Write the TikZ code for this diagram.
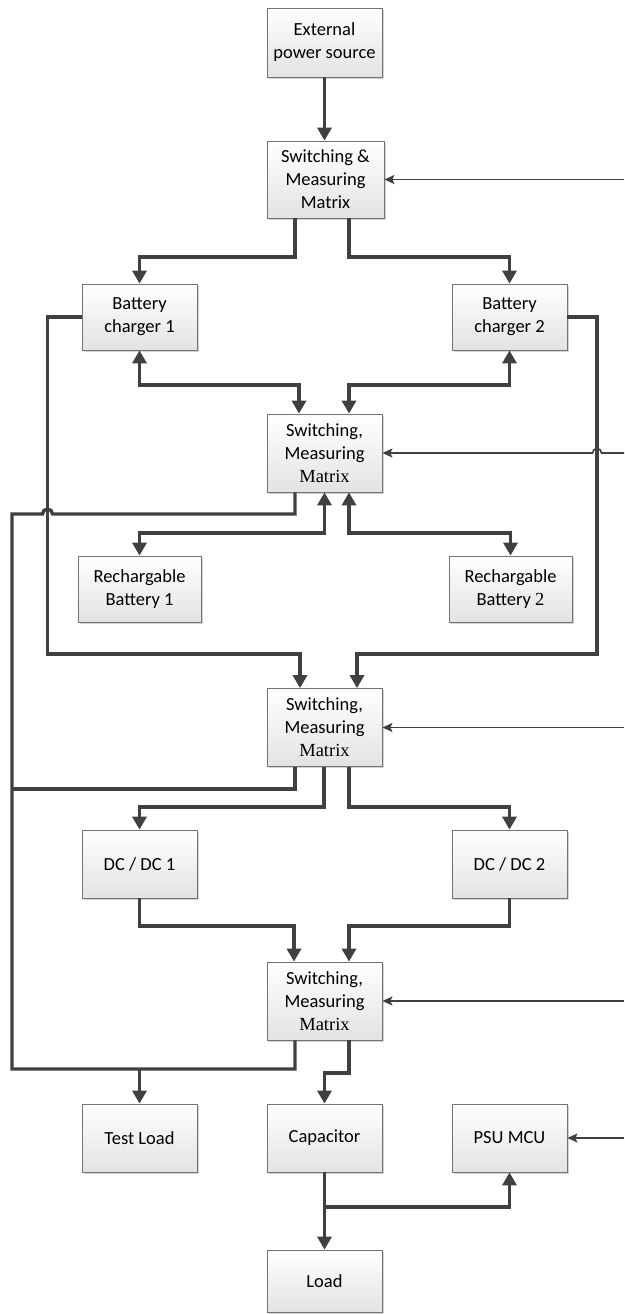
\documentclass[tikz,border=0pt]{standalone}
\usepackage{fontspec}
\setmainfont{Carlito}
\newfontfamily\tnr{Liberation Serif}
\usetikzlibrary{arrows.meta,shadows}
\definecolor{ln}{HTML}{404040}
\begin{document}
\begin{tikzpicture}[x=1pt,y=-1pt,
  box/.style={draw=black!55,line width=0.8pt,top color=white,bottom color=black!11,
    drop shadow={shadow xshift=1.6pt,shadow yshift=-1.6pt,opacity=0.35,fill=black!50},
    align=center,inner sep=0pt,font=\fontsize{18.5}{23}\selectfont},
  pw/.style={draw=ln,line width=3.4pt,line join=miter},
  pwa/.style={pw,-{Triangle[length=13pt,width=14pt]}},
  pwb/.style={pw,{Triangle[length=13pt,width=14pt]}-{Triangle[length=13pt,width=14pt]}},
  ctrl/.style={draw=ln,line width=1.6pt,-{Stealth[length=10pt,width=9pt,inset=2pt]}}]
\useasboundingbox (0,0) rectangle (624,1314);
% nodes
\node[box,minimum width=115pt,minimum height=69pt] (ext) at (324.5,42.5) {External\\power source};
\node[box,minimum width=117pt,minimum height=77pt] (m1) at (325.5,179.5) {Switching \&\\Measuring\\Matrix};
\node[box,minimum width=115pt,minimum height=66pt] (c1) at (139.5,317) {Battery\\charger 1};
\node[box,minimum width=115pt,minimum height=66pt] (c2) at (509.5,317) {Battery\\charger 2};
\node[box,minimum width=115pt,minimum height=78pt] (m2) at (324.5,453) {Switching,\\Measuring\\{\tnr Matrix}};
\node[box,minimum width=123pt,minimum height=66pt] (rb1) at (139.5,589) {Rechargable\\Battery 1};
\node[box,minimum width=123pt,minimum height=66pt] (rb2) at (510.5,589) {Rechargable\\Battery {\tnr 2}};
\node[box,minimum width=115pt,minimum height=78pt] (m3) at (324.5,727.5) {Switching,\\Measuring\\{\tnr Matrix}};
\node[box,minimum width=115pt,minimum height=68pt] (dc1) at (139.5,864) {DC / DC 1};
\node[box,minimum width=115pt,minimum height=68pt] (dc2) at (509.5,864) {DC / DC 2};
\node[box,minimum width=115pt,minimum height=78pt] (m4) at (324.5,1001) {Switching,\\Measuring\\{\tnr Matrix}};
\node[box,minimum width=115pt,minimum height=68pt] (tl) at (139.5,1138) {Test Load};
\node[box,minimum width=115pt,minimum height=68pt] (cap) at (324.5,1138) {Capacitor};
\node[box,minimum width=115pt,minimum height=68pt] (psu) at (509.5,1138) {PSU MCU};
\node[box,minimum width=115pt,minimum height=62pt] (load) at (324.5,1281) {Load};
% free ends
\coordinate (r1) at (624,179.5);
\coordinate (r2) at (624,453);
\coordinate (r3) at (624,727.5);
\coordinate (r4) at (624,1001);
\coordinate (r5) at (624,1138);
\coordinate (tj) at (139.5,1069);
% power connectors
\draw[pwa] (ext.south) -- (ext.south |- m1.north);
\draw[pwa] ([xshift=-30.5pt]m1.south) -- (295,257) -| (c1.north);
\draw[pwa] ([xshift=23.5pt]m1.south) -- (349,257) -| (c2.north);
\draw[pwb] (c1.south) -- (139.5,385) -| ([xshift=-25.5pt]m2.north);
\draw[pwb] (c2.south) -- (509.5,385) -| ([xshift=24.5pt]m2.north);
\draw[pwa] (c1.west) -| (47.5,654) -| ([xshift=-24.5pt]m3.north);
\draw[pwa] (c2.east) -| (597,654) -| ([xshift=32.5pt]m3.north);
\draw[pwb] (m2.south) -- (324.5,533) -| (rb1.north);
\draw[pwb] ([xshift=24.5pt]m2.south) -- (349,533) -| (rb2.north);
\draw[pw] ([xshift=-29.5pt]m2.south) -- (295,514) -- (52.5,514)
  arc[start angle=0,end angle=-180,radius=5] -- (12,514) -- (12,1069) -| ([xshift=-29.5pt]m4.south);
\draw[pw] ([xshift=-29.5pt]m3.south) |- (12,789);
\draw[pwa] ([xshift=-0.5pt]m3.south) -- (324,807) -| (dc1.north);
\draw[pwa] ([xshift=24.5pt]m3.south) -- (349,807) -| (dc2.north);
\draw[pwa] (dc1.south) -- (139.5,926) -| ([xshift=-30.5pt]m4.north);
\draw[pwa] (dc2.south) -- (509.5,926) -| ([xshift=24.5pt]m4.north);
\draw[pwa] (tj) -- (tl.north);
\draw[pwa] ([xshift=24.5pt]m4.south) -- (349,1073) -| (cap.north);
\draw[pwa] (cap.south) -- (load.north);
\draw[pwa] (324.5,1207) -| (psu.south);
% control connectors
\draw[ctrl] (r1) -- (m1.east);
\draw[ctrl] (r2) -- (601.5,453) arc[start angle=0,end angle=-180,radius=4.5] -- (m2.east);
\draw[ctrl] (r3) -- (m3.east);
\draw[ctrl] (r4) -- (m4.east);
\draw[ctrl] (r5) -- (psu.east);
\end{tikzpicture}
\end{document}
